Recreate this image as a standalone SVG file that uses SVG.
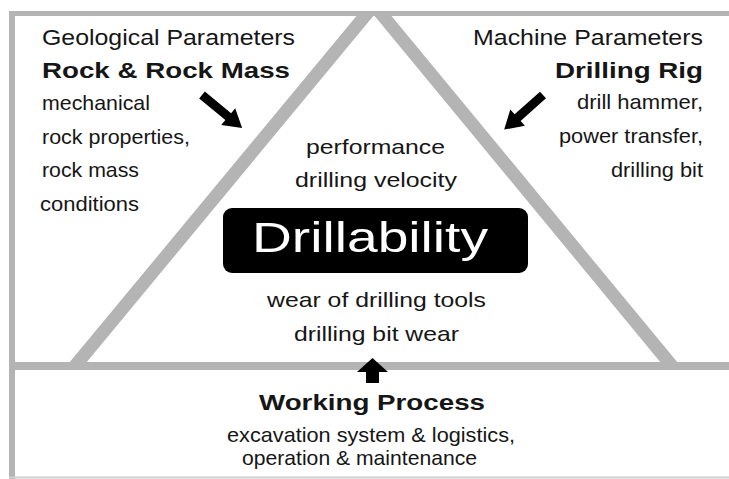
<svg xmlns="http://www.w3.org/2000/svg" width="729" height="479" viewBox="0 0 729 479">
  <style>
    .frame { fill: none; stroke: #b4b4b4; }
    .txt { font-family: "Liberation Sans", Arial, sans-serif; fill: #161616; font-size: 21px; }
    .head { font-size: 21.5px; }
    .bold { font-weight: bold; font-size: 22px; }
    .big { font-family: "Liberation Sans", Arial, sans-serif; fill: #ffffff; font-size: 43px; }
    .arrow { fill: #000000; }
  </style>
  <defs>
    <!-- arrow pointing along +x, tail at origin -->
    <path id="slantArrow" d="M0,-4.5 L34,-4.5 L34,-11 L52,0 L34,11 L34,4.5 L0,4.5 Z"/>
    <clipPath id="belowTop">
      <rect x="0" y="11" width="729" height="360"/>
    </clipPath>
  </defs>

  <rect width="729" height="479" fill="#ffffff"/>

  <!-- outer frame and dividing band -->
  <g id="frame" class="frame">
    <line x1="12" y1="11" x2="12" y2="479" stroke-width="6"/>
    <line x1="9" y1="13.5" x2="729" y2="13.5" stroke-width="5"/>
    <line x1="9" y1="366" x2="729" y2="366" stroke-width="8"/>
    <line x1="9" y1="477.5" x2="729" y2="477.5" stroke-width="2" stroke="#d0d0d0"/>
    <polyline points="75,366 374,5 672,366" stroke-width="13" stroke-linejoin="miter" clip-path="url(#belowTop)"/>
  </g>

  <!-- geological side -->
  <g id="geology" class="txt">
    <text x="42" y="45" class="head" textLength="253" lengthAdjust="spacingAndGlyphs">Geological Parameters</text>
    <text x="42" y="78" class="bold" textLength="248" lengthAdjust="spacingAndGlyphs">Rock &amp; Rock Mass</text>
    <text x="42" y="110" textLength="108" lengthAdjust="spacingAndGlyphs">mechanical</text>
    <text x="42" y="144" textLength="148" lengthAdjust="spacingAndGlyphs">rock properties,</text>
    <text x="42" y="177" textLength="97" lengthAdjust="spacingAndGlyphs">rock mass</text>
    <text x="40" y="211" textLength="99" lengthAdjust="spacingAndGlyphs">conditions</text>
  </g>

  <!-- machine side -->
  <g id="machine" class="txt">
    <text x="473" y="45" class="head" textLength="230" lengthAdjust="spacingAndGlyphs">Machine Parameters</text>
    <text x="555" y="78" class="bold" textLength="148" lengthAdjust="spacingAndGlyphs">Drilling Rig</text>
    <text x="577" y="109" textLength="126" lengthAdjust="spacingAndGlyphs">drill hammer,</text>
    <text x="559" y="143" textLength="144" lengthAdjust="spacingAndGlyphs">power transfer,</text>
    <text x="611" y="177" textLength="92" lengthAdjust="spacingAndGlyphs">drilling bit</text>
  </g>

  <!-- performance -->
  <g id="performance" class="txt">
    <text x="306" y="154" textLength="139" lengthAdjust="spacingAndGlyphs">performance</text>
    <text x="295" y="187" textLength="162" lengthAdjust="spacingAndGlyphs">drilling velocity</text>
  </g>

  <!-- central label -->
  <g id="drillability">
    <rect x="223" y="208" width="305" height="65" rx="9" fill="#000000"/>
    <text x="252" y="252" class="big" textLength="236" lengthAdjust="spacingAndGlyphs">Drillability</text>
  </g>

  <!-- wear -->
  <g id="wear" class="txt">
    <text x="267" y="307" textLength="219" lengthAdjust="spacingAndGlyphs">wear of drilling tools</text>
    <text x="294" y="341" textLength="165" lengthAdjust="spacingAndGlyphs">drilling bit wear</text>
  </g>

  <!-- working process -->
  <g id="working-process" class="txt">
    <text x="259" y="410" class="bold" textLength="226" lengthAdjust="spacingAndGlyphs">Working Process</text>
    <text x="227" y="442" textLength="288" lengthAdjust="spacingAndGlyphs">excavation system &amp; logistics,</text>
    <text x="242" y="465" textLength="235" lengthAdjust="spacingAndGlyphs">operation &amp; maintenance</text>
  </g>

  <!-- influence arrows -->
  <g id="connectors" class="arrow">
    <use href="#slantArrow" transform="translate(202,95) rotate(39.5)"/>
    <use href="#slantArrow" transform="translate(543,95) rotate(138.3)"/>
    <path d="M366,383 L366,372 L357,372 L372.5,358 L388,372 L379,372 L379,383 Z"/>
  </g>
</svg>
